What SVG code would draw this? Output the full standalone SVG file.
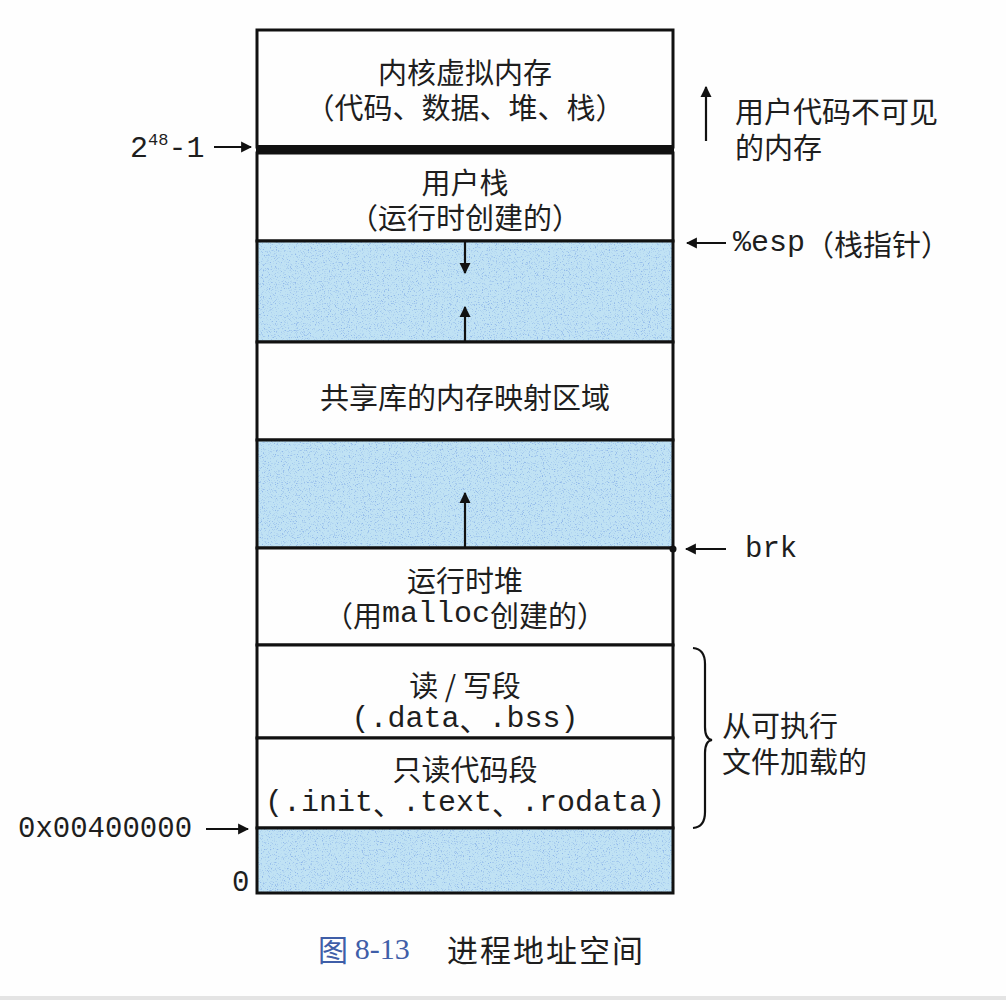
<svg xmlns="http://www.w3.org/2000/svg" width="1006" height="1000" viewBox="0 0 1006 1000">
<defs>
<style>
.cjk{font-family:"Noto Sans CJK SC","Noto Sans",sans-serif;fill:#1e1e1e;}
.mono{font-family:"Liberation Mono","DejaVu Sans Mono",monospace;fill:#1e1e1e;font-size:30px;}
.lbl{font-size:29px;text-anchor:middle;dominant-baseline:central;}
.side{font-size:29px;dominant-baseline:central;}
.seg{fill:#fefefe;stroke:#111;stroke-width:3;}
.free{fill:#c0e2f4;stroke:none;}
.freeb{fill:none;stroke:#111;stroke-width:3;}
.conn{stroke:#111;stroke-width:2.2;fill:none;}
</style>
<filter id="speck" x="0" y="0" width="100%" height="100%">
<feTurbulence type="fractalNoise" baseFrequency="0.85" numOctaves="2" seed="7" result="n"/>
<feColorMatrix in="n" type="matrix" values="0 0 0 0 0.28  0 0 0 0 0.48  0 0 0 0 0.82  4.5 0 0 0 -2.5" result="c"/>
<feComposite in="c" in2="SourceGraphic" operator="in"/>
</filter>
<marker id="ahb" viewBox="0 0 10 10" refX="9" refY="5" markerWidth="11" markerHeight="12" markerUnits="userSpaceOnUse" orient="auto">
<path d="M0,0 L10,5 L0,10 z" fill="#111"/>
</marker>
</defs>
<rect x="0" y="0" width="1006" height="1000" fill="#fefefe"/>
<rect x="0" y="996" width="1006" height="4" fill="#e4e4e4"/>

<g id="kernel">
<rect class="seg" x="257" y="30" width="416" height="117"/>
<text class="cjk lbl" x="465" y="71">内核虚拟内存<tspan x="465" dy="35">（代码、数据、堆、栈）</tspan></text>
</g>
<g id="boundary">
<rect x="256" y="145" width="418" height="9" fill="#111"/>
</g>
<g id="user-stack">
<rect class="seg" x="257" y="153" width="416" height="88"/>
<text class="cjk lbl" x="465" y="181">用户栈<tspan x="465" dy="35">（运行时创建的）</tspan></text>
</g>
<g id="free1">
<rect class="free" x="257" y="241" width="416" height="101"/>
<rect x="257" y="241" width="416" height="101" fill="#000" filter="url(#speck)"/>
<rect class="freeb" x="257" y="241" width="416" height="101"/>
</g>
<g id="shared-libs">
<rect class="seg" x="257" y="342" width="416" height="98"/>
<text class="cjk lbl" x="465" y="396">共享库的内存映射区域</text>
</g>
<g id="free2">
<rect class="free" x="257" y="440" width="416" height="108"/>
<rect x="257" y="440" width="416" height="108" fill="#000" filter="url(#speck)"/>
<rect class="freeb" x="257" y="440" width="416" height="108"/>
</g>
<g id="heap">
<rect class="seg" x="257" y="548" width="416" height="97"/>
<text class="cjk lbl" x="465" y="579">运行时堆<tspan x="465" dy="35">（用<tspan class="mono">malloc</tspan>创建的）</tspan></text>
<circle cx="673" cy="549" r="3.5" fill="#111"/>
</g>
<g id="rw-segment">
<rect class="seg" x="257" y="645" width="416" height="93"/>
<text class="cjk lbl" x="465" y="684">读 / 写段<tspan x="465" dy="35"><tspan class="mono">(.data</tspan>、<tspan class="mono">.bss)</tspan></tspan></text>
</g>
<g id="ro-segment">
<rect class="seg" x="257" y="738" width="416" height="90"/>
<text class="cjk lbl" x="465" y="768">只读代码段<tspan x="465" dy="35"><tspan class="mono">(.init</tspan>、<tspan class="mono">.text</tspan>、<tspan class="mono">.rodata)</tspan></tspan></text>
</g>
<g id="free3">
<rect class="free" x="257" y="828" width="416" height="65"/>
<rect x="257" y="828" width="416" height="65" fill="#000" filter="url(#speck)"/>
<rect class="freeb" x="257" y="828" width="416" height="65"/>
</g>

<g id="labels">
<text class="mono" x="130" y="157" font-size="28">2<tspan font-size="17" dy="-12">48</tspan><tspan dy="12">-1</tspan></text>
<text class="cjk side" x="735" y="110">用户代码不可见<tspan x="735" dy="36">的内存</tspan></text>
<text class="cjk side" x="733" y="243"><tspan class="mono">%esp</tspan>（栈指针）</text>
<text class="mono side" x="745" y="549">brk</text>
<text class="cjk side" x="722" y="724">从可执行<tspan x="722" dy="36">文件加载的</tspan></text>
<text class="mono side" x="18" y="829">0x00400000</text>
<text class="mono side" x="232" y="883">0</text>
<text x="318" y="948" font-size="30" dominant-baseline="central" fill="#3f5ea8" font-family="Noto Sans CJK SC, sans-serif">图 <tspan font-family="Liberation Serif, serif">8-13</tspan></text>
<text class="cjk" x="447" y="948" font-size="31" letter-spacing="2" dominant-baseline="central">进程地址空间</text>
</g>

<g id="connectors">
<line class="conn" x1="465" y1="242" x2="465" y2="273" marker-end="url(#ahb)"/>
<line class="conn" x1="465" y1="341" x2="465" y2="307" marker-end="url(#ahb)"/>
<line class="conn" x1="465" y1="547" x2="465" y2="493" marker-end="url(#ahb)"/>
<line class="conn" x1="706" y1="141" x2="706" y2="87" marker-end="url(#ahb)"/>
<line class="conn" x1="726" y1="243" x2="687" y2="243" marker-end="url(#ahb)"/>
<line class="conn" x1="726" y1="549" x2="686" y2="549" marker-end="url(#ahb)"/>
<line class="conn" x1="206" y1="829" x2="248" y2="829" marker-end="url(#ahb)"/>
<line class="conn" x1="214" y1="147" x2="251" y2="147" marker-end="url(#ahb)"/>
<path class="conn" d="M693,648 Q705,649 705,664 L705,727 Q705,739 712,740 Q705,741 705,753 L705,812 Q705,827 693,828"/>
</g>
</svg>
